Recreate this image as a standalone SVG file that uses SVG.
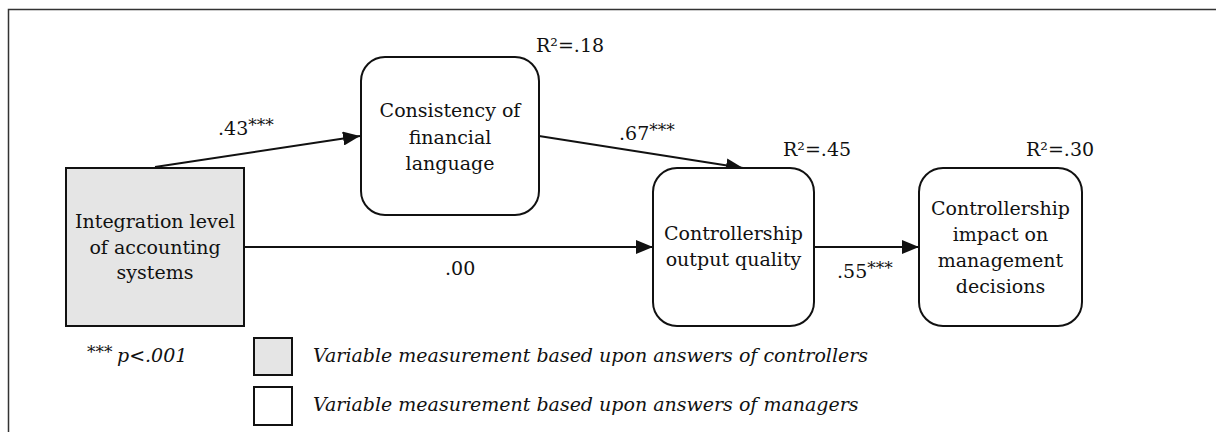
<svg xmlns="http://www.w3.org/2000/svg" width="1216" height="432" viewBox="0 0 1216 432">
<style>
text{font-family:"DejaVu Serif","Liberation Serif",serif;font-size:19px;fill:#111}
.n{text-anchor:middle}
.it{font-style:italic}
.box{stroke:#111;stroke-width:2;fill:#fff}
.gray{fill:#e5e5e5}
.con{stroke:#111;stroke-width:2;fill:none}
.sup{font-size:17px}
</style>
<defs>
<marker id="ah" markerUnits="userSpaceOnUse" viewBox="0 0 17 14" refX="17" refY="7" markerWidth="17" markerHeight="14" orient="auto">
<path d="M0,0 L17,7 L0,14 z" fill="#111"/>
</marker>
</defs>
<rect width="1216" height="432" fill="#fff"/>
<path d="M8.5,432 V9.5 H1216" fill="none" stroke="#333" stroke-width="1.5"/>

<g id="connectors">
<line class="con" x1="155" y1="167" x2="360" y2="136" marker-end="url(#ah)"/>
<line class="con" x1="539" y1="136" x2="743" y2="168" marker-end="url(#ah)"/>
<line class="con" x1="244" y1="247" x2="653" y2="247" marker-end="url(#ah)"/>
<line class="con" x1="814" y1="247" x2="919" y2="247" marker-end="url(#ah)"/>
<text x="218" y="135">.43<tspan class="sup" dy="-4">***</tspan></text>
<text x="619" y="140">.67<tspan class="sup" dy="-4">***</tspan></text>
<text x="445" y="275">.00</text>
<text x="837" y="278">.55<tspan class="sup" dy="-4">***</tspan></text>
</g>

<g id="node-integration">
<rect class="box gray" x="66" y="168" width="178" height="158"/>
<text class="n" x="155" y="228">Integration level</text>
<text class="n" x="155" y="254">of accounting</text>
<text class="n" x="155" y="279">systems</text>
</g>

<g id="node-consistency">
<rect class="box" x="361" y="57" width="178" height="158" rx="24"/>
<text class="n" x="450" y="117">Consistency of</text>
<text class="n" x="450" y="144">financial</text>
<text class="n" x="450" y="170">language</text>
<text x="536" y="52">R²=.18</text>
</g>

<g id="node-output">
<rect class="box" x="653" y="168" width="161" height="158" rx="24"/>
<text class="n" x="733.5" y="240">Controllership</text>
<text class="n" x="733.5" y="266">output quality</text>
<text x="783" y="156">R²=.45</text>
</g>

<g id="node-impact">
<rect class="box" x="919" y="168" width="163" height="158" rx="24"/>
<text class="n" x="1000.5" y="215">Controllership</text>
<text class="n" x="1000.5" y="241">impact on</text>
<text class="n" x="1000.5" y="267">management</text>
<text class="n" x="1000.5" y="293">decisions</text>
<text x="1026" y="156">R²=.30</text>
</g>

<g id="legend">
<text x="87" y="362"><tspan class="sup" dy="-4">***</tspan><tspan class="it" x="117" dy="4">p&lt;.001</tspan></text>
<rect class="box gray" x="254" y="338" width="38" height="37"/>
<text class="it" x="313" y="362">Variable measurement based upon answers of controllers</text>
<rect class="box" x="254" y="387" width="38" height="38"/>
<text class="it" x="313" y="411">Variable measurement based upon answers of managers</text>
</g>
</svg>
